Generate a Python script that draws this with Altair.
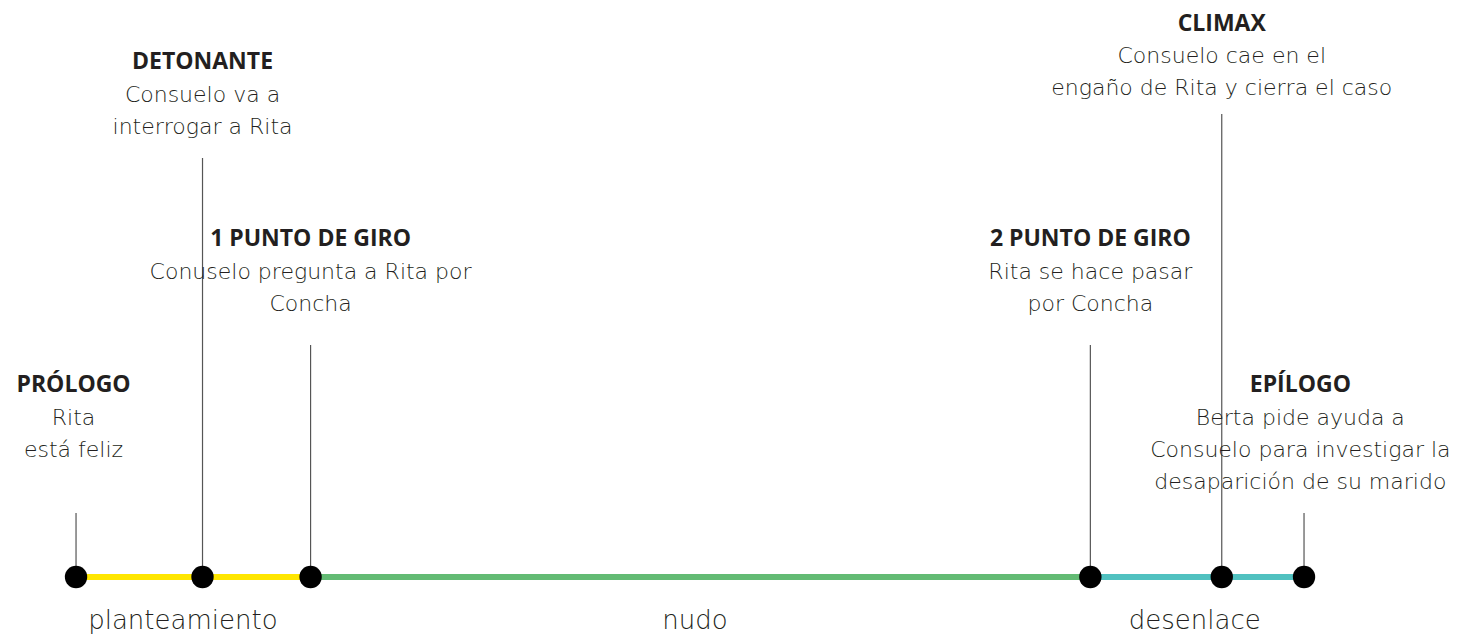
import altair as alt
import pandas as pd

# --- story events (position along the story, % of running time) ---
events = ["PRÓLOGO", "DETONANTE", "1 PUNTO DE GIRO", "2 PUNTO DE GIRO", "CLIMAX", "EPÍLOGO"]
positions = [0, 10.3, 19.1, 82.6, 93.3, 100]
descriptions = [
    "Rita\nestá feliz",
    "Consuelo va a\ninterrogar a Rita",
    "Conuselo pregunta a Rita por\nConcha",
    "Rita se hace pasar\npor Concha",
    "Consuelo cae en el\nengaño de Rita y cierra el caso",
    "Berta pide ayuda a\nConsuelo para investigar la\ndesaparición de su marido",
]

# --- acts ---
phases = ["planteamiento", "nudo", "desenlace"]
phase_start = [0, 19.1, 82.6]
phase_end = [19.1, 82.6, 100]
phase_label_pos = [8.7, 50.4, 91.1]
phase_colors = ["#FFE600", "#63BB74", "#50C1C0"]

# --- layout (label anchors and vertical levels, px from top of chart) ---
label_anchor = [-0.2, 10.3, 19.1, 82.6, 93.3, 99.7]
BASE = 569
stem_top = [505, 150, 337, 337, 106, 505]
title_level = [377, 54, 231, 231, 16, 377]
body_level = [410, 87, 264, 264, 48, 410]
PHASE_LEVEL = 613

ev = pd.DataFrame({
    "event": events, "pos": positions, "desc": descriptions, "tx": label_anchor,
    "top": stem_top, "base": [BASE] * len(events),
    "ty": title_level, "by": body_level,
})
ph = pd.DataFrame({
    "phase": phases, "start": phase_start, "end": phase_end,
    "lab": phase_label_pos, "y": [BASE] * 3, "ly": [PHASE_LEVEL] * 3,
})

xs = alt.Scale(domain=[-5.54, 112.05], nice=False, zero=False)
ys = alt.Scale(domain=[0, 628], reverse=True, nice=False, zero=False)
X = lambda f: alt.X(f, type="quantitative", scale=xs, axis=None)
Y = lambda f: alt.Y(f, type="quantitative", scale=ys, axis=None)

stems = alt.Chart(ev).mark_rule(color="#555555", strokeWidth=1.2).encode(
    x=X("pos"), y=Y("top"), y2="base")

segments = alt.Chart(ph).mark_rule(strokeWidth=6).encode(
    x=X("start"), x2="end", y=Y("y"),
    color=alt.Color("phase:N", scale=alt.Scale(domain=phases, range=phase_colors), legend=None))

dots = alt.Chart(ev).mark_point(filled=True, shape="circle", size=500, color="#000000", opacity=1).encode(
    x=X("pos"), y=Y("base"))

titles = alt.Chart(ev).mark_text(font="Open Sans", fontWeight="bold", fontSize=23, color="#231F20",
                                 baseline="middle", align="center").encode(
    x=X("tx"), y=Y("ty"), text="event")

bodies = alt.Chart(ev).mark_text(font="DejaVu Sans", fontWeight=200, fontSize=22, color="#231F20",
                                 baseline="middle", align="center", lineBreak="\n", lineHeight=32).encode(
    x=X("tx"), y=Y("by"), text="desc")

phase_labels = alt.Chart(ph).mark_text(font="DejaVu Sans", fontWeight=200, fontSize=26, color="#231F20",
                                       baseline="middle", align="center").encode(
    x=X("lab"), y=Y("ly"), text="phase")

chart = alt.layer(stems, segments, dots, titles, bodies, phase_labels).properties(
    width=1444, height=628, padding=0, autosize="none",
).configure_view(stroke=None)

chart.save("out.html", embed_options={"renderer": "svg", "actions": False})
